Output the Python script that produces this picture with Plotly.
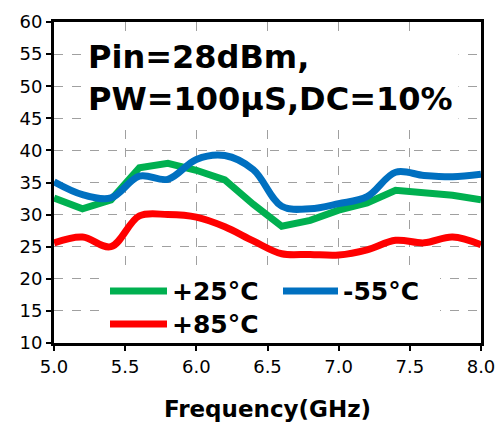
import plotly.graph_objects as go

freq = [5.0, 5.2, 5.4, 5.6, 5.8, 6.0, 6.2, 6.4, 6.6, 6.8, 7.0, 7.2, 7.4, 7.6, 7.8, 8.0]
p25 = [32.6, 30.9, 32.3, 37.3, 38.0, 36.9, 35.4, 31.6, 28.2, 29.1, 30.7, 31.8, 33.8, 33.5, 33.0, 32.3]
m55 = [35.1, 33.1, 32.6, 36.0, 35.5, 38.6, 39.2, 37.0, 31.3, 30.9, 31.7, 32.8, 36.6, 36.1, 35.9, 36.3]
p85 = [25.6, 26.5, 25.0, 29.8, 30.0, 29.6, 28.1, 25.9, 23.9, 23.8, 23.7, 24.5, 26.0, 25.6, 26.5, 25.3]
xticks = [5.0, 5.5, 6.0, 6.5, 7.0, 7.5, 8.0]

names = ["+25°C", "-55°C", "+85°C"]
colors = ["#00B050", "#0070C0", "#FF0000"]
series = [p25, m55, p85]
shapes_line = ["linear", "spline", "spline"]

W, H = 495, 423
L, R, T, B = 54, 14, 22, 80
pw, ph = W - L - R, H - T - B


def px(x):
    return (x - L) / pw


def py(y):
    return (H - B - y) / ph


fig = go.Figure()
for n, c, s, sh in zip(names, colors, series, shapes_line):
    fig.add_trace(go.Scatter(x=freq, y=s, name=n, mode="lines",
                             line=dict(color=c, width=7, shape=sh, smoothing=1.0),
                             showlegend=False))

font = "DejaVu Sans"
grid = dict(showgrid=True, gridcolor="#a0a0a0", gridwidth=1, griddash="dash")
fig.update_layout(
    width=W, height=H,
    margin=dict(l=L, r=R, t=T, b=B, autoexpand=False),
    paper_bgcolor="white", plot_bgcolor="white",
    font=dict(family=font, size=18, color="black"),
    xaxis=dict(range=[5.0, 8.0], tickmode="array", tickvals=xticks,
               ticktext=["%.1f" % v for v in xticks], ticklabeloverflow="allow",
               automargin=False,
               showline=True, linecolor="black", linewidth=3, mirror=True,
               ticks="outside", ticklen=5, tickwidth=1.5, tickcolor="black",
               zeroline=False,
               title=dict(text="<b>Frequency(GHz)</b>", font=dict(size=23), standoff=26),
               **grid),
    yaxis=dict(range=[10, 60], dtick=5, tick0=10, automargin=False,
               showline=True, linecolor="black", linewidth=3, mirror=True,
               ticks="outside", ticklen=5, tickwidth=1.5, tickcolor="black",
               zeroline=False, **grid),
)

# annotation text box
fig.add_annotation(xref="paper", yref="paper", x=px(82), y=py(32),
                   xanchor="left", yanchor="top", align="left",
                   text="<b>Pin=28dBm,<br>PW=100μS,DC=10%</b>",
                   font=dict(size=32, color="black", family=font),
                   showarrow=False, bgcolor="white", borderpad=5)

# legend (white box, sample lines, labels)
fig.add_shape(type="rect", xref="paper", yref="paper",
              x0=px(100), x1=px(440), y0=py(341), y1=py(271),
              fillcolor="white", line=dict(width=0), layer="above")
leg_pos = [(110, 167, 291), (283, 338, 291), (110, 167, 324)]
for n, c, (a, b, yy) in zip(names, colors, leg_pos):
    fig.add_shape(type="line", xref="paper", yref="paper",
                  x0=px(a), x1=px(b), y0=py(yy), y1=py(yy),
                  line=dict(color=c, width=7), layer="above")
    fig.add_annotation(xref="paper", yref="paper", x=px(b + 3), y=py(yy),
                       xanchor="left", yanchor="middle", text="<b>" + n + "</b>",
                       font=dict(size=25, color="black", family=font),
                       showarrow=False)

fig.write_html("out.html")
